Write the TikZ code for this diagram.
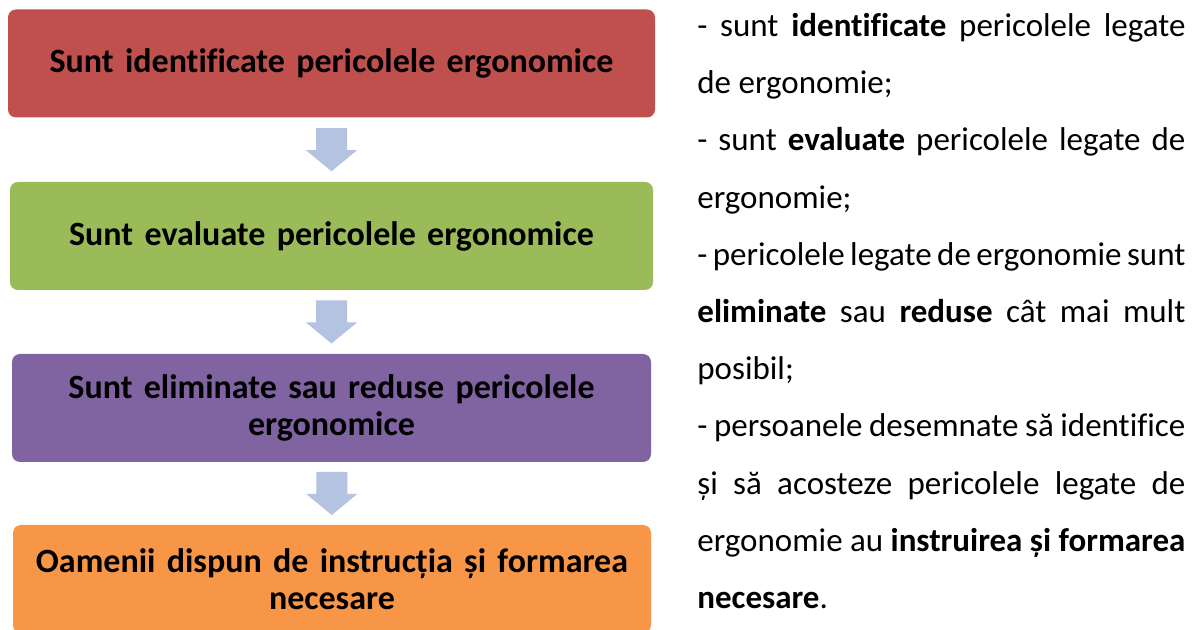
\documentclass[tikz,border=0pt]{standalone}
\usepackage{fontspec}
\setmainfont{Carlito}[Ligatures=CommonOff]
\usepackage{tikz}
\usetikzlibrary{calc}

\definecolor{boxred}{HTML}{C0504D}
\definecolor{boxgreen}{HTML}{9BBB59}
\definecolor{boxpurple}{HTML}{8064A2}
\definecolor{boxorange}{HTML}{F79646}
\definecolor{arrowblue}{HTML}{B3C3E0}

\begin{document}
\begin{tikzpicture}[x=0.5pt,y=-0.5pt,
  stepbox/.style={rounded corners=4pt, inner sep=0pt, minimum height=54pt,
    text width=310pt, align=center, font=\fontsize{17pt}{18.5pt}\selectfont\bfseries}]
\useasboundingbox[fill=white] (0,0) rectangle (1196,630);
\node[stepbox, fill=boxred, minimum width=323.5pt] (red) at (331.5,63.5) {Sunt identificate pericolele ergonomice};
\node[stepbox, fill=boxgreen, minimum width=321.5pt] (green) at (331.5,236) {Sunt evaluate pericolele ergonomice};
\node[stepbox, fill=boxpurple, minimum width=319.5pt] (purple) at (331.5,408) {Sunt eliminate sau reduse pericolele\\ ergonomice};
\node[stepbox, fill=boxorange, minimum width=319pt] (orange) at (332,579) {Oamenii dispun de instrucția și formarea\\ necesare};
% sagetile dintre casete
\foreach \a/\b in {red/green,green/purple,purple/orange} {
  \coordinate (m) at ($(\a.south)!0.5!(\b.north)$);
  \fill[arrowblue] ([shift={(-15.5,-21.5)}]m) -- ([shift={(15.5,-21.5)}]m) -- ([shift={(15.5,0.5)}]m)
    -- ([shift={(25.5,0.5)}]m) -- ([shift={(0,21.5)}]m) -- ([shift={(-25.5,0.5)}]m)
    -- ([shift={(-15.5,0.5)}]m) -- cycle;
}
\node[anchor=north west, inner sep=0pt, text width=244pt, align=justify,
  font=\fontsize{16.5pt}{28.6pt}\selectfont] (notes) at (697,13) {%
- sunt \textbf{identificate} pericolele legate\linebreak de ergonomie;\par
- sunt \textbf{evaluate} pericolele legate de\linebreak ergonomie;\par
- pericolele legate de ergonomie sunt\linebreak \textbf{eliminate} sau \textbf{reduse} cât mai mult\linebreak posibil;\par
- persoanele desemnate să identifice\linebreak și să acosteze pericolele legate de\linebreak ergonomie au \textbf{instruirea și formarea}\linebreak \textbf{necesare}.};
\end{tikzpicture}
\end{document}
